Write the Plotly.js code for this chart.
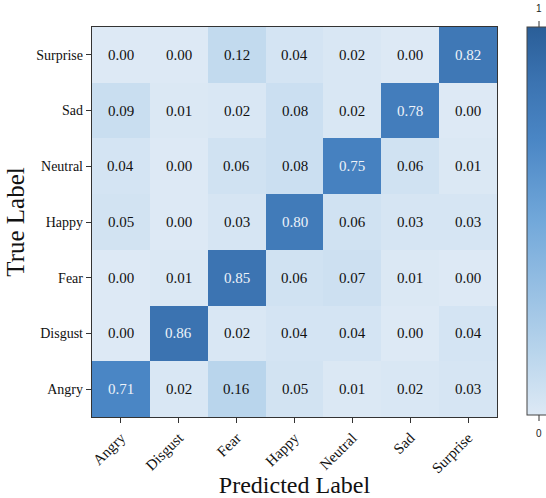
<!DOCTYPE html>
<html><head><meta charset="utf-8">
<script src="https://cdn.plot.ly/plotly-3.0.1.min.js"></script>
<style>html,body{margin:0;padding:0;background:#fff}#c{width:546px;height:498px}</style>
</head><body><div id="c"></div>
<script>
const predLabels = ["Angry","Disgust","Fear","Happy","Neutral","Sad","Surprise"];
const trueLabels = ["Angry","Disgust","Fear","Happy","Neutral","Sad","Surprise"];
// rows in order of trueLabels (bottom to top)
const rowAngry    = [0.71,0.02,0.16,0.05,0.01,0.02,0.03];
const rowDisgust  = [0.00,0.86,0.02,0.04,0.04,0.00,0.04];
const rowFear     = [0.00,0.01,0.85,0.06,0.07,0.01,0.00];
const rowHappy    = [0.05,0.00,0.03,0.80,0.06,0.03,0.03];
const rowNeutral  = [0.04,0.00,0.06,0.08,0.75,0.06,0.01];
const rowSad      = [0.09,0.01,0.02,0.08,0.02,0.78,0.00];
const rowSurprise = [0.00,0.00,0.12,0.04,0.02,0.00,0.82];
const z = [rowAngry,rowDisgust,rowFear,rowHappy,rowNeutral,rowSad,rowSurprise];

const serif = "Liberation Serif, Times New Roman, serif";
const colorscale = [[0,"#dde9f5"],[0.16,"#b9d5ec"],[0.5,"#72a8da"],[0.71,"#4a86c5"],[0.86,"#3b73b1"],[1,"#2a5e98"]];

const annotations = [];
for (let i=0;i<trueLabels.length;i++){
  for (let j=0;j<predLabels.length;j++){
    const v = z[i][j];
    annotations.push({x:predLabels[j], y:trueLabels[i], text:v.toFixed(2), showarrow:false,
      font:{family:serif,size:15,color: v>0.5 ? "#eef3f9" : "#111111"}});
  }
}
const cbx = (539-92)/405;
annotations.push({xref:"paper",yref:"paper",x:cbx,y:(417-9)/390,xanchor:"center",yanchor:"middle",text:"1",showarrow:false,font:{family:"Liberation Sans, Arial",size:10,color:"#222"}});
annotations.push({xref:"paper",yref:"paper",x:cbx,y:(417-433)/390,xanchor:"center",yanchor:"middle",text:"0",showarrow:false,font:{family:"Liberation Sans, Arial",size:10,color:"#222"}});

const shapes = [
  {type:"line",xref:"paper",yref:"paper",x0:cbx,x1:cbx,y0:(417-27)/390,y1:(417-21)/390,line:{color:"#333",width:1}},
  {type:"line",xref:"paper",yref:"paper",x0:cbx,x1:cbx,y0:(417-415)/390,y1:(417-421)/390,line:{color:"#333",width:1}}
];

Plotly.newPlot("c",[{
  type:"heatmap", x:predLabels, y:trueLabels, z:z, zmin:0, zmax:1,
  colorscale:colorscale, hoverongaps:false,
  colorbar:{x:(527-92)/405, xanchor:"left", y:1, yanchor:"top", len:388/390, lenmode:"fraction",
    xpad:0, ypad:0, thickness:26, thicknessmode:"pixels", outlinewidth:1, outlinecolor:"#444", showticklabels:false, ticks:""}
}],{
  width:546,height:498,
  margin:{l:92,r:49,t:27,b:81,autoexpand:false},
  paper_bgcolor:"#fff", plot_bgcolor:"#fff",
  xaxis:{type:"category", tickangle:-45, ticks:"outside", ticklen:5, tickcolor:"#333",
    showline:true, mirror:true, linecolor:"#333", linewidth:1.2, showgrid:false, zeroline:false,
    tickfont:{family:serif,size:15,color:"#111"},
    title:{text:"Predicted Label", font:{family:serif,size:24,color:"#111"}, standoff:7}},
  yaxis:{type:"category", ticks:"outside", ticklen:5, tickcolor:"#333",
    showline:true, mirror:true, linecolor:"#333", linewidth:1.2, showgrid:false, zeroline:false,
    tickfont:{family:serif,size:14,color:"#111"},
    title:{text:"True Label", font:{family:serif,size:25,color:"#111"}, standoff:4}},
  annotations:annotations, shapes:shapes
},{displayModeBar:false,staticPlot:true});
</script></body></html>
